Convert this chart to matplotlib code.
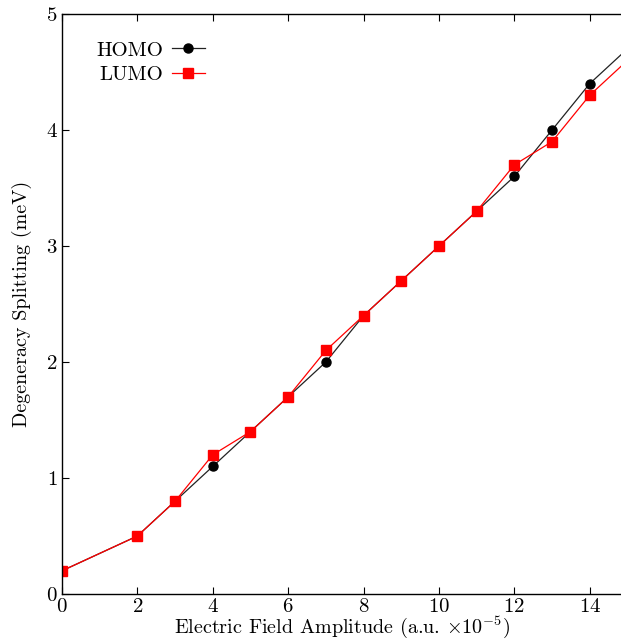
import matplotlib
matplotlib.use("Agg")
import matplotlib.pyplot as plt

# field amplitude (a.u. x 1e-5)
field = [0, 2, 3, 4, 5, 6, 7, 8, 9, 10, 11, 12, 13, 14, 15]
# degeneracy splitting (meV)
homo = [0.2, 0.5, 0.8, 1.1, 1.4, 1.7, 2.0, 2.4, 2.7, 3.0, 3.3, 3.6, 4.0, 4.4, 4.7]
lumo = [0.2, 0.5, 0.8, 1.2, 1.4, 1.7, 2.1, 2.4, 2.7, 3.0, 3.3, 3.7, 3.9, 4.3, 4.6]

xticks = [0, 2, 4, 6, 8, 10, 12, 14]
yticks = [0, 1, 2, 3, 4, 5]

plt.rcParams["font.family"] = "serif"
plt.rcParams["font.serif"] = ["cmr10", "DejaVu Serif"]
plt.rcParams["mathtext.fontset"] = "cm"
plt.rcParams["axes.formatter.use_mathtext"] = True

fig = plt.figure(figsize=(6.21, 6.39), dpi=100)
ax = fig.add_axes([0.0998, 0.0704, 0.9002, 0.9076])

ax.plot(field, homo, color="#222222", lw=0.9, marker="o", ms=6.5,
        markerfacecolor="black", markeredgecolor="black", label="HOMO")
ax.plot(field, lumo, color="red", lw=0.9, marker="s", ms=6.5,
        markerfacecolor="red", markeredgecolor="red", label="LUMO")

ax.set_xlim(0, 14.83)
ax.set_ylim(0, 5)
ax.set_xticks(xticks)
ax.set_yticks(yticks)
ax.tick_params(direction="in", top=True, right=False, labelsize=15, length=5, width=0.8, pad=3)
ax.spines["right"].set_visible(False)
for s in ["left", "bottom", "top"]:
    ax.spines[s].set_linewidth(1.0)

ax.set_xlabel(r"Electric Field Amplitude (a.u. $\times10^{-5}$)", fontsize=14.5, labelpad=-1)
ax.set_ylabel("Degeneracy Splitting (meV)", fontsize=14.5, labelpad=10)

ax.legend(loc="upper left", frameon=False, markerfirst=False, fontsize=15,
          handlelength=1.6, handletextpad=0.4, borderaxespad=0.0, labelspacing=0.3,
          bbox_to_anchor=(0.047, 0.968))

fig.savefig("out.png", dpi=100)
